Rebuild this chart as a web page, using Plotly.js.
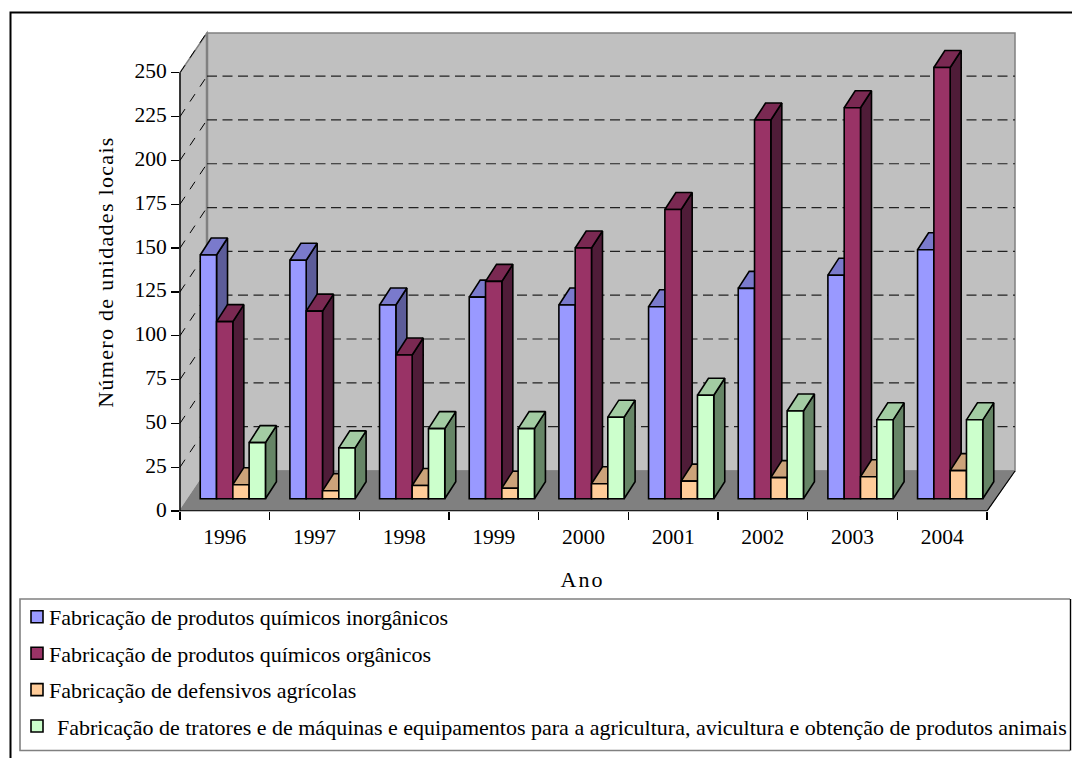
<!DOCTYPE html>
<html><head><meta charset="utf-8">
<script src="https://cdn.plot.ly/plotly-3.0.1.min.js"></script>
<style>html,body{margin:0;padding:0;background:#fff}
.xtitle{letter-spacing:2px}.ytitle{letter-spacing:1.3px}</style></head>
<body><div id="chart" style="width:1072px;height:758px"></div>
<script>
const years = ['1996','1997','1998','1999','2000','2001','2002','2003','2004'];
const inorganicos = [139,136,110.5,115,110.5,109.5,120,127.5,142];
const organicos   = [101,107,82,124,143,165,216,223,246];
const defensivos  = [8,4.5,7.5,6,8.5,10,12,12.5,16];
const tratores    = [32,29,40,40,46.5,59,50,45,45];
const names = ['Fabricação de produtos químicos inorgânicos','Fabricação de produtos químicos orgânicos','Fabricação de defensivos agrícolas','Fabricação de tratores e de máquinas e equipamentos para a agricultura, avicultura e obtenção de produtos animais'];
const frontColors = ['#9999FF','#993366','#FFCC99','#CCFFCC'];
const topColors   = ['#7A7ACC','#7A2952','#CCA37A','#A3CCA3'];
const sideColors  = ['#5C5C99','#4F1C38','#997A5C','#668566'];
const series = [inorganicos,organicos,defensivos,tratores];
const yTicks = [0,25,50,75,100,125,150,175,200,225,250];

// projection constants (px → axis units)
const PXX = 807/9, PXY = 1.753;
const barW = 16.3/PXX, shiftX = 8/PXX, baseY = 12.3/PXY;
const sideX = 11/PXX, sideY = 17/PXY;
const backY = 40.5/PXY;
const xs = years.map((_,i)=>i);
const FONT = 'Liberation Serif, Times New Roman, serif';
const px = v => v/1072, py = v => (758-v)/758;

const traces = [];
series.forEach((vals,s)=>{
  const left = i => xs[i]-2*barW+shiftX+s*barW;
  const sx=[],sy=[],tx=[],ty=[];
  vals.forEach((v,i)=>{
    const l=left(i), r=l+barW, t=baseY+v;
    sx.push(r,r+sideX,r+sideX,r,r,null);
    sy.push(baseY,baseY+sideY,t+sideY,t,baseY,null);
    tx.push(l,l+sideX,r+sideX,r,l,null);
    ty.push(t,t+sideY,t+sideY,t,t,null);
  });
  const poly=(x,y,c,z)=>({type:'scatter',mode:'lines',x,y,fill:'toself',fillcolor:c,line:{color:'#000',width:1.6},
    showlegend:false,hoverinfo:'skip',cliponaxis:false,zorder:z,connectgaps:false});
  traces.push(poly(sx,sy,sideColors[s],s*2+1));
  traces.push(poly(tx,ty,topColors[s],s*2+1));
  traces.push({type:'bar',name:names[s],x:xs.map(left),y:vals,base:xs.map(()=>baseY),width:barW,offset:0,
    marker:{color:frontColors[s],line:{color:'#000',width:1.6}},legendgroup:'g'+s,cliponaxis:false,zorder:s*2+2});
});

const shapes=[];
const GRAY='#808080';
// frame
shapes.push({type:'path',xref:'paper',yref:'paper',path:`M${px(10.5)},${py(770)}L${px(10.5)},${py(12.5)}L${px(1080)},${py(12.5)}`,line:{color:'#000',width:2},layer:'below'});
// walls
const X0=180,X1=987,BX0=207,BX1=1015;
const poly=(pts,fill,lc,lw)=>shapes.push({type:'path',xref:'paper',yref:'paper',layer:'below',
  path:'M'+pts.map(p=>px(p[0])+','+py(p[1])).join('L')+'Z',fillcolor:fill,line:{color:lc,width:lw}});
poly([[BX0,33],[BX1,33],[BX1,471],[BX0,471]],'#C0C0C0',GRAY,1.5);
poly([[X0,72.7],[BX0,33],[BX0,471],[X0,511]],'#C0C0C0',GRAY,1.5);
shapes.push({type:'line',xref:'paper',yref:'paper',layer:'below',x0:px(BX0),x1:px(BX0),y0:py(33),y1:py(471),line:{color:GRAY,width:2.5}});
poly([[X0,511],[BX0,471],[BX1,471],[X1,511]],GRAY,GRAY,1);
shapes.push({type:'line',xref:'paper',yref:'paper',layer:'below',x0:px(X1),x1:px(BX1),y0:py(511),y1:py(471),line:{color:'#000',width:1.2}});
// gridlines from the value scale
yTicks.slice(1,-1).forEach(v=>{
  shapes.push({type:'line',xref:'paper',yref:'y',layer:'below',x0:px(BX0),x1:px(BX1),y0:v+backY,y1:v+backY,line:{color:'#222',width:1.2,dash:'10px,5.5px'}});
});
yTicks.slice(1).forEach(v=>{
  shapes.push({type:'line',xref:'paper',yref:'y',layer:'below',x0:px(X0),x1:px(BX0),y0:v,y1:v+backY,line:{color:'#000',width:1,dash:'9px,9px'}});
});
// axis lines
shapes.push({type:'line',xref:'paper',yref:'y',x0:px(X0),x1:px(X0),y0:0,y1:250,line:{color:'#000',width:1.3}});
shapes.push({type:'line',xref:'paper',yref:'y',x0:px(X0),x1:px(X1),y0:0,y1:0,line:{color:'#000',width:1.3}});
// legend box
shapes.push({type:'path',xref:'paper',yref:'paper',layer:'below',path:`M${px(1070)},${py(599)}L${px(20)},${py(599)}L${px(20)},${py(750.5)}L${px(1070)},${py(750.5)}`,line:{color:GRAY,width:1.6}});
shapes.push({type:'line',xref:'paper',yref:'paper',layer:'below',x0:px(1070.5),x1:px(1070.5),y0:py(599),y1:py(750.5),line:{color:'#000',width:1.4}});

const layout={
  width:1072,height:758,margin:{l:0,r:0,t:0,b:0,autoexpand:false},
  paper_bgcolor:'#fff',plot_bgcolor:'rgba(0,0,0,0)',
  font:{family:FONT,color:'#000',size:20},
  barmode:'overlay',showlegend:true,
  xaxis:{domain:[px(X0),px(BX1)],range:[-0.5,8.5+(BX1-X1)/PXX],tickmode:'array',tickvals:xs,ticktext:years,ticks:'',showgrid:false,zeroline:false,showline:false,
    ticklabelstandoff:10,tickfont:{size:21.5,family:FONT},fixedrange:true,
    minor:{tickmode:'array',tickvals:[-0.5,0.5,1.5,2.5,3.5,4.5,5.5,6.5,7.5,8.5],ticks:'outside',ticklen:8,tickcolor:'#000',tickwidth:1.3,showgrid:false},
    title:{text:'Ano',font:{size:22,family:FONT},standoff:24}},
  yaxis:{domain:[py(511),py(33)],range:[0,478/PXY],tickmode:'array',tickvals:yTicks,ticks:'outside',ticklen:8,tickcolor:'#000',tickwidth:1.3,showgrid:false,zeroline:false,showline:false,
    tickfont:{size:21.5,family:FONT},ticklabelshift:-2,fixedrange:true,
    title:{text:'Número de unidades locais',font:{size:22,family:FONT},standoff:14}},
  legend:{x:px(17),xanchor:'left',y:py(596),yanchor:'top',bgcolor:'rgba(0,0,0,0)',borderwidth:0,tracegroupgap:4.8,font:{size:22,family:FONT},itemclick:false,itemdoubleclick:false},
  shapes
};
Plotly.newPlot('chart',traces,layout,{staticPlot:true,displayModeBar:false}).then(gd=>{
  gd.querySelectorAll('.legendtext').forEach((t,i)=>{ if(i<3) t.setAttribute('x', +t.getAttribute('x')-8); });
  const xt=gd.querySelector('.xtitle'); if(xt) xt.setAttribute('x', +xt.getAttribute('x')-15);
});
</script></body></html>
